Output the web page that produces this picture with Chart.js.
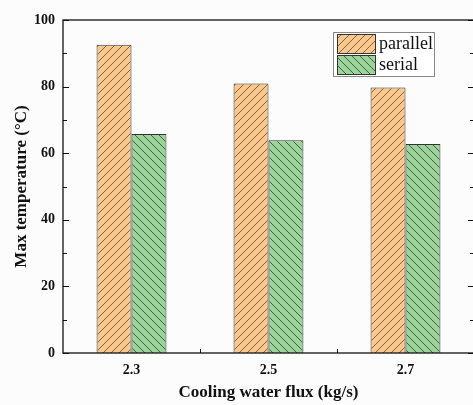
<!DOCTYPE html>
<html>
<head>
<meta charset="utf-8">
<script src="https://cdn.jsdelivr.net/npm/chart.js@4.4.1/dist/chart.umd.min.js"></script>
<style>
  html, body { margin: 0; padding: 0; background: #fcfcfc; overflow: hidden; }
  #wrap { width: 473px; height: 405px; overflow: hidden; }
  canvas { display: block; }
</style>
</head>
<body>
<div id="wrap"><canvas id="c" width="480" height="405"></canvas></div>
<script>
// Cooling water flux categories (kg/s) and maximum temperatures (°C)
const flux = ['2.3', '2.5', '2.7'];
const parallelTemp = [92.6, 80.9, 79.7];
const serialTemp = [65.8, 63.9, 62.8];
const seriesNames = ['parallel', 'serial'];
const yTickValues = [0, 20, 40, 60, 80, 100];

// Diagonal hatch fill built on a small tile canvas
function hatch(bg, fg, dir) {
  const s = 8;
  const t = document.createElement('canvas');
  t.width = s; t.height = s;
  const g = t.getContext('2d');
  g.fillStyle = bg;
  g.fillRect(0, 0, s, s);
  g.strokeStyle = fg;
  g.lineWidth = 0.9;
  g.beginPath();
  if (dir === '/') {
    for (const o of [-s, 0, s]) { g.moveTo(o, s); g.lineTo(o + s, 0); }
  } else {
    for (const o of [-s, 0, s]) { g.moveTo(o, 0); g.lineTo(o + s, s); }
  }
  g.stroke();
  return g.createPattern(t, 'repeat');
}

const ctx = document.getElementById('c').getContext('2d');
const orangeFill = hatch('#f9c88f', '#7a5535', '/');
const greenFill = hatch('#9dd39b', '#2f5a35', '\\');

const serif = "'Liberation Serif', 'Times New Roman', serif";

// Frame, inward tick marks and the boxed legend
const framePlugin = {
  id: 'frame',
  afterDraw(chart) {
    const c = chart.ctx;
    const a = chart.chartArea;
    const y = chart.scales.y;
    const x = chart.scales.x;
    c.save();
    c.strokeStyle = '#111';
    c.lineWidth = 1.3;
    c.strokeRect(a.left, a.top, a.right - a.left, a.bottom - a.top);
    c.lineWidth = 1;
    c.beginPath();
    for (let v = 0; v <= 100; v += 10) {
      const py = Math.round(y.getPixelForValue(v)) + 0.5;
      const len = v % 20 === 0 ? 6 : 4;
      c.moveTo(a.left, py); c.lineTo(a.left + len, py);
      c.moveTo(a.right, py); c.lineTo(a.right - len, py);
    }
    for (let i = 0; i < flux.length - 1; i++) {
      const px = Math.round((x.getPixelForValue(i) + x.getPixelForValue(i + 1)) / 2) + 0.5;
      c.moveTo(px, a.bottom); c.lineTo(px, a.bottom - 4);
    }
    c.stroke();

    // legend
    const lx = 333, ly = 32, lw = 101, lh = 44;
    c.fillStyle = '#ffffff';
    c.fillRect(lx, ly, lw, lh);
    c.strokeStyle = '#888';
    c.lineWidth = 1;
    c.strokeRect(lx + 0.5, ly + 0.5, lw, lh);
    chart.data.datasets.forEach((ds, i) => {
      const ry = ly + 2 + i * 21;
      c.fillStyle = ds.backgroundColor;
      c.fillRect(337, ry, 38, 19);
      c.strokeStyle = '#333';
      c.strokeRect(337.5, ry + 0.5, 38, 19);
      c.fillStyle = '#111';
      c.font = '18px ' + serif;
      c.textBaseline = 'middle';
      c.textAlign = 'left';
      c.fillText(ds.label, 379, ry + 10);
    });
    c.restore();
  }
};

new Chart(ctx, {
  type: 'bar',
  data: {
    labels: flux,
    datasets: [
      { label: seriesNames[0], data: parallelTemp, backgroundColor: orangeFill, borderColor: '#333', borderWidth: 1 },
      { label: seriesNames[1], data: serialTemp, backgroundColor: greenFill, borderColor: '#333', borderWidth: 1 }
    ]
  },
  options: {
    responsive: false,
    devicePixelRatio: 1,
    animation: false,
    layout: { padding: { top: 20, right: 6, left: 0, bottom: 0 } },
    datasets: { bar: { barPercentage: 1, categoryPercentage: 0.51 } },
    plugins: { legend: { display: false }, tooltip: { enabled: false } },
    scales: {
      x: {
        grid: { display: false, drawTicks: false },
        border: { display: false },
        ticks: { color: '#111', padding: 9, font: { family: serif, size: 14, weight: 'bold' } },
        title: {
          display: true, text: 'Cooling water flux (kg/s)', color: '#111',
          font: { family: serif, size: 17, weight: 'bold' }, padding: { top: 0, bottom: 2 }
        },
        afterFit(s) { s.height = 52; }
      },
      y: {
        min: 0, max: 100,
        grid: { display: false, drawTicks: false },
        border: { display: false },
        afterBuildTicks(s) { s.ticks = yTickValues.map(v => ({ value: v })); },
        ticks: { color: '#111', padding: 8, font: { family: serif, size: 14, weight: 'bold' } },
        title: {
          display: true, text: 'Max temperature (°C)', color: '#111',
          font: { family: serif, size: 17, weight: 'bold' }, padding: { top: 11, bottom: 0 }
        },
        afterFit(s) { s.width = 63; }
      }
    }
  },
  plugins: [framePlugin]
});
</script>
</body>
</html>
